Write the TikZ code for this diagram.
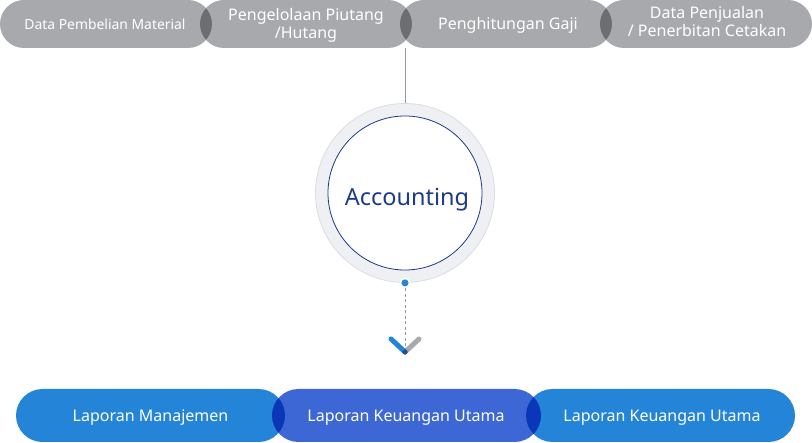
\documentclass[tikz,border=0pt]{standalone}
\usepackage{fontspec}
\setmainfont{Noto Sans}
\usetikzlibrary{shapes.misc}
\definecolor{pillgray}{RGB}{167,169,172}
\definecolor{lensgray}{RGB}{108,110,114}
\definecolor{bluea}{RGB}{36,132,216}
\definecolor{blueb}{RGB}{61,103,212}
\definecolor{lensblue}{RGB}{10,55,184}
\definecolor{ringgray}{RGB}{238,240,243}
\definecolor{ringline}{RGB}{218,221,226}
\definecolor{navy}{RGB}{30,58,138}
\definecolor{linegray}{RGB}{150,152,156}
\definecolor{chevdark}{RGB}{25,80,160}
\begin{document}
\begin{tikzpicture}[x=1pt,y=-1pt]
\useasboundingbox (0,0) rectangle (812,443);
\tikzset{
  toppill/.style={rounded rectangle, fill=pillgray, minimum width=212pt, minimum height=48pt, inner sep=0pt},
  botpill/.style={rounded rectangle, minimum width=269pt, minimum height=53pt, inner sep=0pt},
  toptext/.style={anchor=base, text=white, align=center, font=\fontsize{16}{18}\selectfont, inner sep=0pt},
  bottext/.style={anchor=base, text=white, font=\fontsize{16}{18}\selectfont, inner sep=0pt},
}
% top pills
\node[toppill] (p1) at (106,24) {};
\node[toppill] (p2) at (306,24) {};
\node[toppill] (p3) at (506,24) {};
\node[toppill] (p4) at (706,24) {};
\begin{scope}
  \clip[rounded corners=24pt] (0,0) rectangle (212,48);
  \fill[lensgray, rounded corners=24pt] (200,0) rectangle (412,48);
\end{scope}
\begin{scope}
  \clip[rounded corners=24pt] (200,0) rectangle (412,48);
  \fill[lensgray, rounded corners=24pt] (400,0) rectangle (612,48);
\end{scope}
\begin{scope}
  \clip[rounded corners=24pt] (400,0) rectangle (612,48);
  \fill[lensgray, rounded corners=24pt] (600,0) rectangle (812,48);
\end{scope}
\node[toptext, font=\fontsize{13.9}{16}\selectfont] (t1) at (105,30) {Data Pembelian Material};
\node[toptext] (t2) at (306,39) {Pengelolaan Piutang\\/Hutang};
\node[toptext] (t3) at (508,29.5) {Penghitungan Gaji};
\node[toptext] (t4) at (707,37) {Data Penjualan\\/ Penerbitan Cetakan};
% circle
\node[circle, fill=ringgray, draw=ringline, line width=0.8pt, minimum size=179pt, inner sep=0pt] (outer) at (405,193) {};
\node[circle, fill=white, draw=navy, line width=0.8pt, minimum size=154pt, inner sep=0pt] (acc) at (405,193) {};
\node[anchor=base, text=navy, font=\fontsize{23.5}{26}\selectfont, inner sep=0pt] (acct) at (407,206) {Accounting};
\coordinate (topc) at (405,48);
\draw[linegray, line width=0.7pt] (topc) -- (outer.north);
% dot and dashed line
\coordinate (chev) at (405,352);
\draw[linegray, line width=0.8pt, dash pattern=on 3pt off 2.5pt] (outer.south) -- (chev);
\node[circle, fill=bluea, draw=white, line width=1.5pt, minimum size=9pt, inner sep=0pt] (dot) at (outer.south) {};
% chevron
\coordinate (chl) at (391,339);
\coordinate (chr) at (419,339);
\draw[pillgray, line width=5pt, line cap=round] (chev) -- (chr);
\draw[bluea, line width=5pt, line cap=round] (chl) -- (chev);
\fill[chevdark] (chev) circle (2.6pt);
% bottom pills
\node[botpill, fill=bluea] (b1) at (150.5,415.5) {};
\node[botpill, fill=blueb] (b2) at (406.5,415.5) {};
\node[botpill, fill=bluea] (b3) at (660.5,415.5) {};
\begin{scope}
  \clip[rounded corners=26.5pt] (16,389) rectangle (285,442);
  \fill[lensblue, rounded corners=26.5pt] (272,389) rectangle (541,442);
\end{scope}
\begin{scope}
  \clip[rounded corners=26.5pt] (272,389) rectangle (541,442);
  \fill[lensblue, rounded corners=26.5pt] (526,389) rectangle (795,442);
\end{scope}
\node[bottext] (l1) at (150.5,422) {Laporan Manajemen};
\node[bottext] (l2) at (406,422) {Laporan Keuangan Utama};
\node[bottext] (l3) at (662,422) {Laporan Keuangan Utama};
\end{tikzpicture}
\end{document}
